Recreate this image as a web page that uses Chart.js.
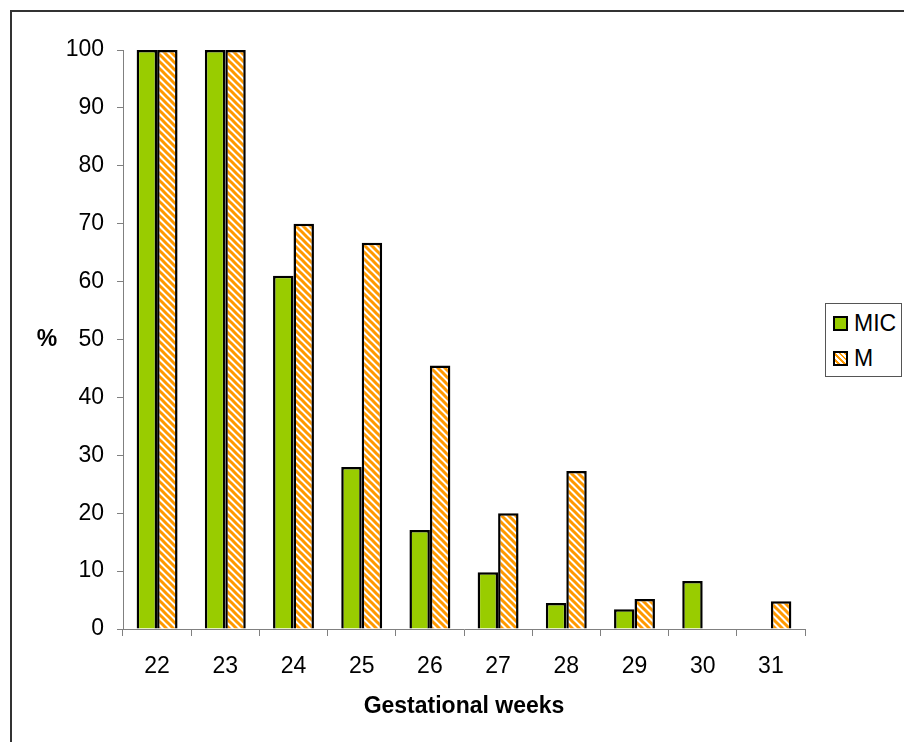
<!DOCTYPE html>
<html>
<head>
<meta charset="utf-8">
<script src="https://cdn.jsdelivr.net/npm/chart.js@4.4.0/dist/chart.umd.min.js"></script>
<style>
  html, body { margin: 0; padding: 0; background: #fff; }
  body { width: 904px; height: 742px; position: relative; overflow: hidden; font-family: "Liberation Sans", Arial, sans-serif; }
  #frame { position: absolute; left: 10px; top: 10px; width: 1000px; height: 1000px; border: 2px solid #333; box-sizing: border-box; }
  #wrap { position: absolute; left: 0; top: 0; width: 904px; height: 742px; }
  #legend { position: absolute; left: 825px; top: 303px; width: 77px; height: 74px; border: 1px solid #555; box-sizing: border-box; background: #fff; }
  .item { position: absolute; left: 7px; height: 20px; display: flex; align-items: center; font-size: 23px; color: #000; }
  .box { width: 11px; height: 11px; border: 2px solid #000; margin-right: 6px; }
</style>
</head>
<body>
<div id="frame"></div>
<div id="wrap"><canvas id="chart" width="904" height="742"></canvas></div>
<div id="legend"></div>
<script>
// ---- DATA ----
const weeks = ["22", "23", "24", "25", "26", "27", "28", "29", "30", "31"];
const micValues = [100, 100, 61, 28, 17.1, 9.8, 4.5, 3.4, 8.3, null];
const mValues = [100, 100, 70, 66.7, 45.5, 20, 27.3, 5.2, null, 4.8];
const seriesNames = ["MIC", "M"];
const yTitle = "%";
const xTitle = "Gestational weeks";

const GREEN = "#99cc00";
const ORANGE = "#ff9900";
const FONT = "'Liberation Sans', Arial, sans-serif";

// diagonal orange stripes on white
function makeStripes() {
  const s = 7;
  const c = document.createElement("canvas");
  c.width = s; c.height = s;
  const g = c.getContext("2d");
  g.fillStyle = "#fff";
  g.fillRect(0, 0, s, s);
  g.strokeStyle = ORANGE;
  g.lineWidth = 3;
  g.beginPath();
  g.moveTo(-s, -s); g.lineTo(2 * s, 2 * s);
  g.moveTo(-s, 0); g.lineTo(s, 2 * s);
  g.moveTo(0, -s); g.lineTo(2 * s, s);
  g.stroke();
  return g.createPattern(c, "repeat");
}

const ctx = document.getElementById("chart").getContext("2d");
const stripes = makeStripes();

// "%" upright, left of the y axis
const yTitlePlugin = {
  id: "yTitle",
  afterDraw(chart) {
    const c = chart.ctx;
    c.save();
    c.font = "bold 23px " + FONT;
    c.fillStyle = "#000";
    c.textAlign = "center";
    c.textBaseline = "middle";
    c.fillText(yTitle, 47, (chart.chartArea.top + chart.chartArea.bottom) / 2);
    c.restore();
  }
};

new Chart(ctx, {
  type: "bar",
  data: {
    labels: weeks,
    datasets: [
      { label: seriesNames[0], data: micValues, backgroundColor: GREEN, borderColor: "#000", borderWidth: 2.5 },
      { label: seriesNames[1], data: mValues, backgroundColor: stripes, borderColor: "#000", borderWidth: 2.5 }
    ]
  },
  options: {
    responsive: false,
    animation: false,
    layout: { padding: { left: 0, top: 50, right: 99, bottom: 0 } },
    plugins: { legend: { display: false }, tooltip: { enabled: false } },
    datasets: { bar: { categoryPercentage: 0.6, barPercentage: 1.0 } },
    scales: {
      x: {
        grid: { drawOnChartArea: false, drawTicks: true, tickLength: 7, color: "#808080", offset: true },
        border: { display: true, color: "#808080", width: 1 },
        ticks: { color: "#000", font: { family: FONT, size: 23 }, padding: 17, maxRotation: 0 },
        title: { display: true, text: xTitle, color: "#000", font: { family: FONT, size: 23, weight: "bold" }, padding: { top: 0, bottom: 22 } },
        afterFit(scale) { scale.height = 113; }
      },
      y: {
        min: 0, max: 100,
        grid: { drawOnChartArea: false, drawTicks: true, tickLength: 6, color: "#808080" },
        border: { display: true, color: "#808080", width: 1 },
        ticks: { stepSize: 10, color: "#000", font: { family: FONT, size: 23 }, padding: 13 },
        afterFit(scale) { scale.width = 123; }
      }
    }
  },
  plugins: [yTitlePlugin]
});

// legend built from the series
const legend = document.getElementById("legend");
const fills = [GREEN, "repeating-linear-gradient(45deg, #fff 0 2px, " + ORANGE + " 2px 4px)"];
seriesNames.forEach((name, i) => {
  const item = document.createElement("div");
  item.className = "item";
  item.style.top = (i === 0 ? 9 : 44) + "px";
  const box = document.createElement("span");
  box.className = "box";
  box.style.background = fills[i];
  item.appendChild(box);
  item.appendChild(document.createTextNode(name));
  legend.appendChild(item);
});
</script>
</body>
</html>
